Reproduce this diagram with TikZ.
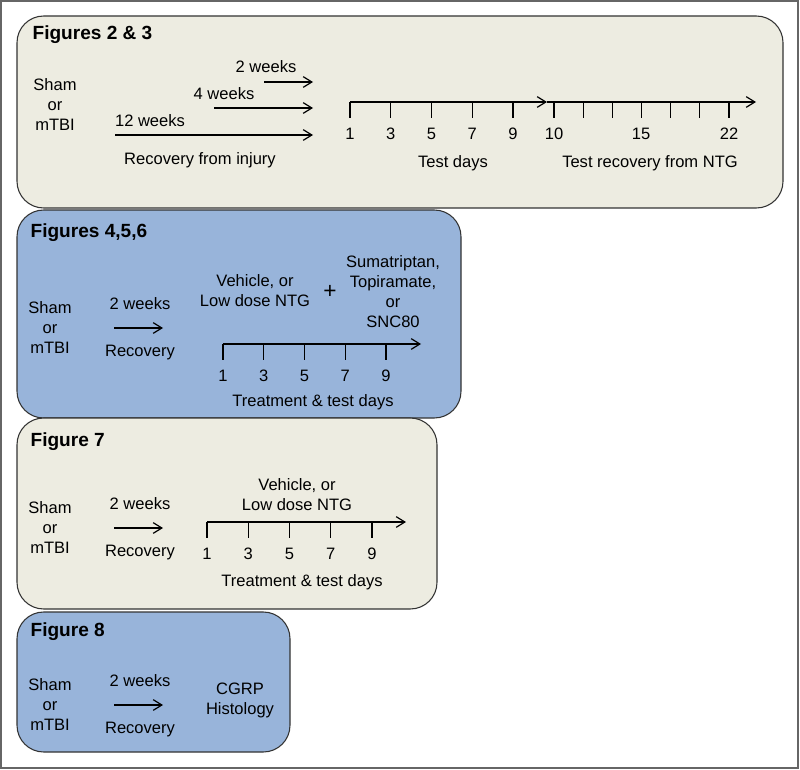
\documentclass[tikz,border=0pt]{standalone}
\usepackage{fontspec}
\setmainfont{Liberation Sans}
\usetikzlibrary{arrows.meta}
\begin{document}
\begin{tikzpicture}[>={Straight Barb[length=6.5pt,width=8pt]},x=0.75pt,y=-0.75pt,line width=0.9pt,
	txt/.style={font=\fontsize{12.4}{15}\selectfont,align=center,inner sep=0pt},
	titel/.style={font=\fontsize{14.3}{17}\selectfont\bfseries,anchor=west,inner sep=0pt},
	kastenstil/.style={draw=black!80,line width=0.8pt,rounded corners=20pt}]

\definecolor{beige}{RGB}{237,236,225}
\definecolor{blau}{RGB}{152,180,218}

\def\kasten#1#2#3#4#5{
	\draw[kastenstil,fill=#5] (#1,#2) rectangle (#3,#4);
}

% Zeitachse: Name, x-Anfang, y, Abstand, x-Ende
\def\achse#1#2#3#4#5{
	\coordinate (#1a) at (#2,#3);
	\coordinate (#1e) at (#5,#3);
	\draw[->] (#1a) -- (#1e);
	\foreach \t [count=\i from 0] in {1,3,5,7,9}{
		\draw ({#2+\i*#4},#3) -- ++(0,16);
		\node[txt] (#1t\t) at ({#2+\i*#4},{#3+32}) {\t};
	}
}

% Sham/mTBI, 2 Wochen Erholung
\def\gruppe#1#2{
	\node[txt] (sham#1) at (50,#2) {Sham\\or\\mTBI};
	\node[txt] (woche#1) at (140,{#2-24}) {2 weeks};
	\coordinate (pa#1) at (114,#2);
	\coordinate (pe#1) at (163,#2);
	\draw[->] (pa#1) -- (pe#1);
	\node[txt] (erh#1) at (140,{#2+25}) {Recovery};
}

\useasboundingbox (0,0) rectangle (800,770);
\draw[line width=1.4pt,draw=black!60] (1,1) rectangle (798,768);

% Figures 2 & 3
\kasten{17}{16}{783}{208}{beige}
\node[titel] (t1) at (32,35) {Figures 2 \& 3};
\node[txt] (sham1) at (55,105) {Sham\\or\\mTBI};
\node[txt] (w2) at (266,67) {2 weeks};
\node[txt] (w4) at (224,94) {4 weeks};
\node[txt] (w12) at (150,121) {12 weeks};
\coordinate (a2) at (264,82);
\coordinate (a4) at (214,108);
\coordinate (a12) at (115,135);
\coordinate (z2) at (313,82);
\coordinate (z4) at (313,108);
\coordinate (z12) at (313,135);
\foreach \w in {2,4,12}{
	\draw[->] (a\w) -- (z\w);
}
\node[txt] (rec1) at (200,160) {Recovery from injury};
\achse{A}{350}{102}{40.75}{547}
\coordinate (Bz) at (756,102);
\draw[->] (Ae) -- (Bz);
\foreach \k in {0,...,6}{
	\draw ({554+\k*29.17},102) -- ++(0,16);
}
\node[txt] (n10) at (554,134) {10};
\node[txt] (n15) at (641,134) {15};
\node[txt] (n22) at (729,134) {22};
\node[txt] (td) at (453,163) {Test days};
\node[txt] (trn) at (650,163) {Test recovery from NTG};

% Figures 4,5,6
\kasten{17}{210}{461}{418}{blau}
\node[titel] (t2) at (30,233) {Figures 4,5,6};
\gruppe{2}{328}
\node[txt] (veh2) at (255,291) {Vehicle, or\\Low dose NTG};
\node[txt,font=\fontsize{17}{17}\selectfont] (plus) at (330,292) {+};
\node[txt] (med) at (393,292) {Sumatriptan,\\Topiramate,\\or\\SNC80};
\achse{C}{223}{344}{40.75}{421}
\node[txt] (ttd2) at (313,402) {Treatment \& test days};

% Figure 7
\kasten{17}{418}{437}{609}{beige}
\node[titel] (t3) at (30,442) {Figure 7};
\gruppe{3}{528}
\node[txt] (veh3) at (297,495) {Vehicle, or\\Low dose NTG};
\achse{D}{207}{522}{41.25}{406}
\node[txt] (ttd3) at (302,582) {Treatment \& test days};

% Figure 8
\kasten{17}{612}{290}{752}{blau}
\node[titel] (t4) at (30,632) {Figure 8};
\gruppe{4}{705}
\node[txt] (cgrp) at (240,700) {CGRP\\Histology};

\end{tikzpicture}
\end{document}
